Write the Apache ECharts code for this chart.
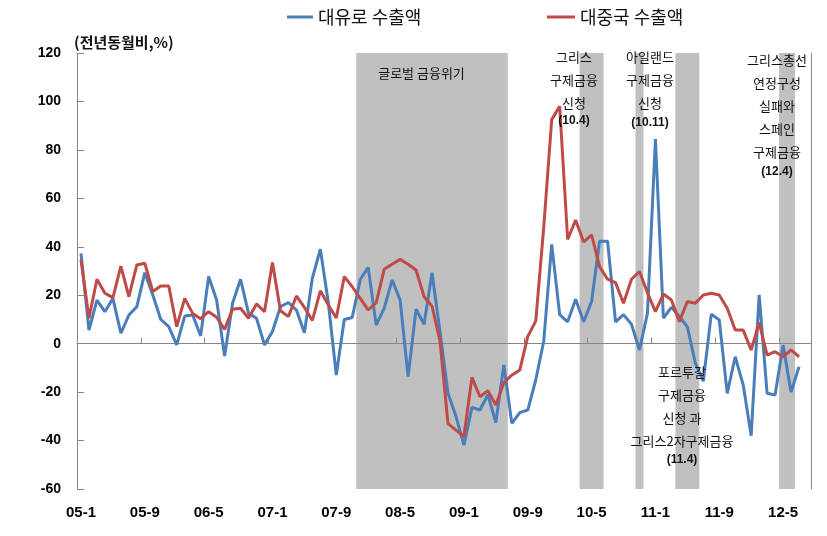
<!DOCTYPE html>
<html><head><meta charset="utf-8">
<script src="https://cdn.jsdelivr.net/npm/echarts@6/dist/echarts.min.js"></script>
<style>html,body{margin:0;padding:0;background:#fff}#c{width:827px;height:536px}</style>
</head><body><div id="c"></div>
<script>
const categories = [
 '05-1','05-2','05-3','05-4','05-5','05-6','05-7','05-8','05-9','05-10','05-11','05-12',
 '06-1','06-2','06-3','06-4','06-5','06-6','06-7','06-8','06-9','06-10','06-11','06-12',
 '07-1','07-2','07-3','07-4','07-5','07-6','07-7','07-8','07-9','07-10','07-11','07-12',
 '08-1','08-2','08-3','08-4','08-5','08-6','08-7','08-8','08-9','08-10','08-11','08-12',
 '09-1','09-2','09-3','09-4','09-5','09-6','09-7','09-8','09-9','09-10','09-11','09-12',
 '10-1','10-2','10-3','10-4','10-5','10-6','10-7','10-8','10-9','10-10','10-11','10-12',
 '11-1','11-2','11-3','11-4','11-5','11-6','11-7','11-8','11-9','11-10','11-11','11-12',
 '12-1','12-2','12-3','12-4','12-5','12-6','12-7','12-8'
];
const euroExports = [
 37.3, 5.6, 18, 13.2, 18.7, 4.3, 11.8, 15.3, 29.3, 20.1,
 10, 7, -0.5, 11.4, 11.8, 3.2, 27.7, 18, -5.1, 16.7,
 26.6, 12.5, 10.5, -0.5, 5, 15.3, 17, 13.9, 4.5, 27,
 39, 17, -13, 10, 10.8, 26.5, 31.5, 7.7, 14.6, 26.3,
 18, -13.6, 14.2, 8, 29.3, 5, -20.5, -30, -41.9, -26.3,
 -27.4, -21.1, -32.6, -8.8, -32.9, -28.5, -27.4, -15, 1, 41,
 12, 9, 18.3, 9, 17.4, 42.3, 42.3, 9, 12, 8,
 -2.6, 12.5, 84.5, 10.5, 15, 11.2, 7, -8, -15.5, 12.2,
 9.8, -20.5, -5.4, -17, -38, 20.1, -20.5, -21.2, -0.6, -20,
 -9.5
];
const chinaExports = [
 34.6, 10.5, 26.6, 20.8, 19, 32, 19.4, 32.5, 33.2, 21.5,
 23.8, 23.8, 7, 18.7, 12.5, 10.3, 13.2, 10.9, 5.9, 14.2,
 14.6, 10.5, 16.4, 13.2, 33.5, 13.6, 11.2, 19.7, 15, 9.6,
 21.8, 16, 10.6, 27.7, 23.5, 18.7, 13.9, 16.9, 30.7, 32.8,
 34.8, 32.8, 30.4, 19.4, 15.5, 1, -33, -35.7, -38.2, -13.9,
 -21.9, -19.4, -25.3, -16.1, -13, -10.9, 3, 9.3, 48, 92.5,
 98, 43, 51, 42, 44.9, 31.8, 26.6, 25.2, 16.7, 26.6,
 29.8, 21, 13.2, 20.5, 18, 9.1, 17.4, 16.7, 20.1, 20.8,
 20.1, 14.6, 5.6, 5.6, -2.6, 8.7, -4.7, -3.3, -5.4, -2.6,
 -5.4
];
const yMin = -60, yMax = 120, yInterval = 20;
const shadedPeriods = [['07-12','09-6'],['10-4','10-6'],['10-11','10-11'],['11-4','11-6'],['12-5','12-6']];
const seriesNames = ['대유로 수출액','대중국 수출액'];
const annotations = [
  {x:421.5, top:61.5, lines:['글로벌 금융위기'], date:null},
  {x:574, top:45.5, lines:['그리스','구제금융','신청'], date:'(10.4)', dateY:121},
  {x:650, top:45.5, lines:['아일랜드','구제금융','신청'], date:'(10.11)', dateY:123},
  {x:777, top:48.5, lines:['그리스총선','연정구성','실패와','스페인','구제금융'], date:'(12.4)', dateY:172},
  {x:682, top:360.5, lines:['포르투갈','구제금융','신청 과','그리스2자구제금융'], date:'(11.4)', dateY:460}
];

const bandData = shadedPeriods.map(([a,b])=>[categories.indexOf(a), categories.indexOf(b), yMin, yMax]);

const KR = '"Noto Sans CJK KR", sans-serif';
const graphics = [];
annotations.forEach(a=>{
  graphics.push({type:'text', x:a.x, y:a.top, z:100, style:{text:a.lines.join('\n'), align:'center', verticalAlign:'top', lineHeight:23, font:'13px '+KR, fill:'#111'}});
  if(a.date) graphics.push({type:'text', x:a.x, y:a.dateY, z:100, style:{text:a.date, align:'center', verticalAlign:'middle', font:'bold 12px Arial, "Liberation Sans", sans-serif', fill:'#111'}});
});
graphics.push({type:'text', x:74, y:42, z:100, style:{text:'(전년동월비,%)', align:'left', verticalAlign:'middle', font:'bold 15px '+KR, fill:'#111'}});

const axisColor = '#868686';
const bandColor = '#C0C0C0';
const chart = echarts.init(document.getElementById('c'));
chart.setOption({
  animation:false,
  backgroundColor:'#fff',
  grid:{left:77, right:16, top:53, bottom:47, containLabel:false},
  legend:[
    {data:[seriesNames[0]], left:287, top:8, padding:0, icon:'rect', itemWidth:26, itemHeight:3, itemGap:0, textStyle:{fontSize:18, color:'#111', fontFamily:KR}},
    {data:[seriesNames[1]], left:547, top:8, padding:0, icon:'rect', itemWidth:28, itemHeight:3, itemGap:0, textStyle:{fontSize:18, color:'#111', fontFamily:KR}}
  ],
  xAxis:[
    {type:'category', data:categories, boundaryGap:true, position:'bottom',
     axisLine:{show:false, onZero:false}, axisTick:{show:false}, splitLine:{show:false},
     axisLabel:{interval:7, margin:16, fontSize:15, fontWeight:'bold', color:'#000', fontFamily:'Arial, "Liberation Sans", sans-serif'}},
    {type:'category', data:categories, boundaryGap:true, position:'bottom', z:1.5,
     axisLine:{show:true, onZero:true, onZeroAxisIndex:0, lineStyle:{color:axisColor, width:1}},
     axisTick:{show:true, inside:true, length:6, interval:7, lineStyle:{color:axisColor}},
     axisLabel:{show:false}, splitLine:{show:false}}
  ],
  yAxis:[
    {type:'value', min:yMin, max:yMax, interval:yInterval, position:'left',
     axisLine:{show:true, lineStyle:{color:axisColor}},
     axisTick:{show:true, inside:true, length:7, lineStyle:{color:axisColor}},
     splitLine:{show:false},
     axisLabel:{margin:16, fontSize:14, fontWeight:'bold', color:'#000', fontFamily:'Arial, "Liberation Sans", sans-serif'}},
    {type:'value', min:yMin, max:yMax, interval:yInterval, position:'right',
     axisLine:{show:true, lineStyle:{color:axisColor}}, axisTick:{show:false}, axisLabel:{show:false}, splitLine:{show:false}}
  ],
  series:[
    {name:'bands', type:'custom', data:bandData, encode:{x:[0,1], y:[2,3]}, z:1, silent:true, xAxisIndex:0, yAxisIndex:0,
     renderItem:(params, api)=>{
       const s = api.coord([api.value(0), api.value(3)]);
       const e = api.coord([api.value(1), api.value(2)]);
       const w = api.size([1,0])[0];
       return {type:'rect', shape:{x:s[0]-w/2, y:s[1], width:e[0]-s[0]+w, height:e[1]-s[1]}, style:{fill:bandColor}};
     }},
    {name:seriesNames[0], type:'line', data:euroExports, symbol:'none', z:3, xAxisIndex:0, yAxisIndex:0,
     lineStyle:{color:'#4A7EBB', width:3}, itemStyle:{color:'#4A7EBB'}},
    {name:seriesNames[1], type:'line', data:chinaExports, symbol:'none', z:3, xAxisIndex:0, yAxisIndex:0,
     lineStyle:{color:'#BE4B48', width:3}, itemStyle:{color:'#BE4B48'}}
  ],
  graphic:graphics
});
</script></body></html>
